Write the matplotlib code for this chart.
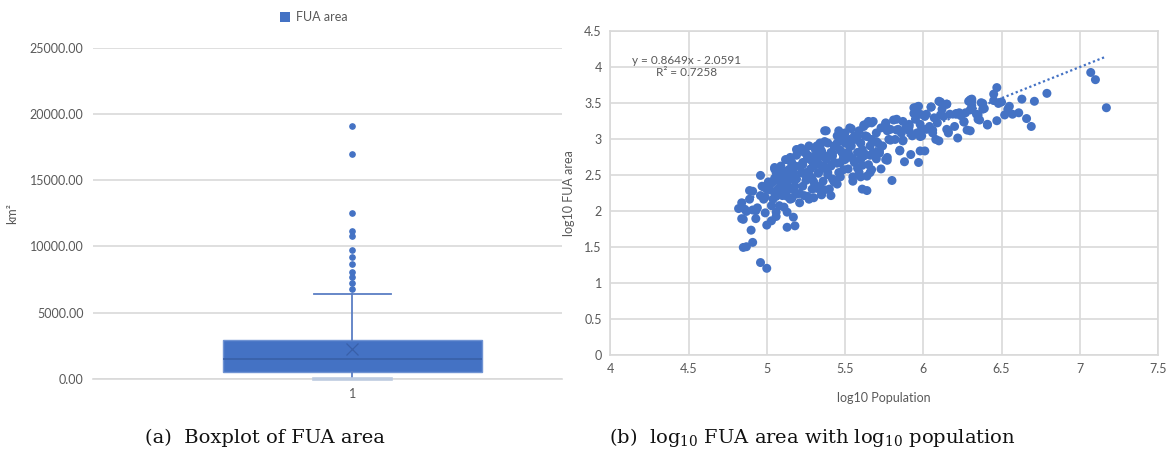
import matplotlib
matplotlib.use("Agg")
import matplotlib.pyplot as plt
from matplotlib.patches import Patch
import numpy as np

# boxplot of FUA area (km2), summary
box_q1 = 510
box_med = 1480
box_q3 = 2950
box_mean = 2260
whisk_lo = 0
whisk_hi = 6370
outliers = [19100, 17000, 12500, 11200, 10800, 9700, 9200, 8700, 8100, 7700, 7250, 6750]

# log10 population vs log10 FUA area
log_pop = [
    4.82, 4.84, 4.84, 4.86, 4.89, 4.89, 4.90, 4.91, 4.85, 4.87, 4.93, 4.91, 4.94, 4.96, 4.96,
    4.97, 4.98, 4.96, 5.00, 5.00, 4.99, 5.00, 5.01, 4.91, 4.85, 4.87, 4.93, 4.99, 4.98,
    5.03, 5.03, 5.04, 5.05, 5.05, 5.06, 5.06, 5.08, 5.09, 5.10, 5.12, 5.13, 5.13, 5.15, 5.15,
    5.16, 5.16, 5.17, 5.18, 5.17, 5.18, 5.19, 5.11, 5.08, 5.14, 5.10, 5.16, 5.18, 5.19, 5.21, 5.19,
    5.02, 5.07, 5.12, 5.14, 5.05, 5.09, 5.13, 5.17, 5.06, 5.11,
    5.22, 5.24, 5.23, 5.27, 5.25, 5.22, 5.23, 5.24, 5.27, 5.29, 5.29, 5.30, 5.31, 5.32, 5.34,
    5.33, 5.34, 5.35, 5.36, 5.36, 5.37, 5.37, 5.39, 5.39, 5.40, 5.25, 5.28, 5.30, 5.21, 5.27,
    5.29, 5.33, 5.35,
    5.41, 5.42, 5.41, 5.42, 5.43, 5.45, 5.46, 5.46, 5.45, 5.47, 5.48, 5.50, 5.50, 5.53, 5.52,
    5.53, 5.54, 5.55, 5.56, 5.56, 5.58, 5.59, 5.59, 5.60, 5.49, 5.48, 5.52, 5.55, 5.57, 5.53,
    5.43, 5.41,
    5.61, 5.64, 5.62, 5.65, 5.67, 5.63, 5.66, 5.62, 5.65, 5.66, 5.68, 5.70, 5.71, 5.73, 5.76,
    5.77, 5.74, 5.73, 5.77, 5.78, 5.79, 5.80, 5.61, 5.67, 5.72, 5.76, 5.64, 5.70,
    5.83, 5.82, 5.84, 5.85, 5.87, 5.88, 5.89, 5.91, 5.92, 5.93, 5.94, 5.96, 5.97, 5.98, 5.97,
    5.98, 5.99, 5.98, 5.91, 5.86, 5.95,
    6.01, 6.02, 6.02, 6.04, 6.05, 6.07, 6.08, 6.10, 6.10, 6.12, 6.13, 6.15, 6.15, 6.16, 6.17,
    6.20, 6.06, 6.09,
    6.22, 6.21, 6.23, 6.26, 6.27, 6.28, 6.29, 6.31, 6.31, 6.34, 6.35, 6.37, 6.38, 6.41, 6.24,
    6.45, 6.47, 6.45, 6.48, 6.50, 6.47, 6.52, 6.55, 6.54, 6.57, 6.61, 6.63, 6.66, 6.69, 6.71,
    6.79, 7.07, 7.10, 7.17, 6.30, 6.31, 6.31, 6.30, 6.39, 6.38, 6.35, 6.36, 6.41,
    # dense core, 5.0 - 5.6
    5.38, 5.47, 5.54, 5.62, 5.49, 5.58, 5.45, 5.37, 5.34, 5.31, 5.21, 5.25, 5.19, 5.26, 5.34,
    5.38, 5.42, 5.47, 5.53, 5.60, 5.62, 5.60, 5.58, 5.55, 5.49, 5.47, 5.43, 5.35, 5.37, 5.32,
    5.30, 5.28, 5.23, 5.17, 5.15, 5.13, 5.16, 5.11, 5.05, 5.09, 5.04, 5.00, 5.02, 5.06, 5.45,
    5.50, 5.36, 5.33, 5.39, 5.30, 5.23, 5.28, 5.21, 5.26, 5.17, 5.11, 5.13,
    # dense core, 5.6 - 6.3
    5.96, 6.05, 6.11, 6.15, 6.30, 5.94, 6.01, 6.11, 6.21, 6.26, 5.87, 5.81, 5.76, 5.68, 5.64,
    5.83, 5.91, 5.99, 6.06, 6.16, 5.98, 5.87, 5.79, 5.70, 5.64, 5.85, 5.72, 5.66, 5.77, 5.61,
    5.60, 5.67,
]
log_area = [
    2.03, 2.11, 1.89, 2.02, 2.16, 2.28, 1.73, 1.56, 1.49, 1.50, 1.89, 2.01, 2.04, 2.21, 2.49,
    2.34, 2.16, 1.28, 1.20, 1.80, 1.97, 2.30, 2.40, 2.27, 1.88, 1.99, 2.00, 2.19, 2.33,
    1.86, 2.07, 2.16, 2.25, 2.60, 2.53, 1.98, 2.07, 2.34, 2.21, 2.71, 1.98, 1.77, 2.16, 2.74,
    2.44, 2.17, 1.91, 1.79, 2.53, 2.62, 2.85, 2.39, 2.41, 2.57, 2.53, 2.67, 2.34, 2.23, 2.11, 2.44,
    2.36, 2.30, 2.48, 2.30, 2.45, 2.62, 2.20, 2.30, 1.92, 2.05,
    2.87, 2.81, 2.67, 2.76, 2.53, 2.53, 2.34, 2.21, 2.16, 2.30, 2.44, 2.62, 2.76, 2.90, 2.94,
    2.53, 2.34, 2.23, 2.41, 2.62, 2.76, 3.11, 2.94, 2.53, 2.30, 2.42, 2.58, 2.18, 2.62, 2.90,
    2.69, 2.65, 2.83,
    2.21, 2.44, 2.62, 2.76, 2.90, 3.04, 3.11, 2.53, 2.37, 2.67, 2.81, 2.94, 3.08, 3.15, 2.58,
    2.76, 2.90, 2.41, 3.04, 2.67, 2.81, 2.53, 3.11, 2.94, 2.74, 2.99, 2.81, 2.72, 2.99, 2.99,
    2.67, 2.81,
    2.30, 2.28, 3.17, 3.24, 3.22, 3.04, 2.90, 2.76, 2.64, 2.53, 2.81, 3.08, 2.94, 3.15, 3.22,
    3.11, 2.90, 2.58, 2.74, 2.99, 3.13, 2.42, 2.85, 2.99, 2.83, 2.71, 2.48, 2.72,
    3.27, 2.99, 3.13, 2.83, 2.97, 2.68, 3.15, 3.11, 2.78, 3.04, 3.43, 3.08, 3.45, 3.34, 2.67,
    2.83, 3.04, 3.20, 3.20, 3.08, 3.27,
    2.83, 3.13, 3.34, 3.17, 3.44, 3.29, 2.99, 2.97, 3.52, 3.41, 3.31, 3.48, 3.13, 3.08, 3.34,
    3.17, 3.08, 3.22,
    3.01, 3.34, 3.36, 3.23, 3.36, 3.12, 3.52, 3.55, 3.41, 3.34, 3.27, 3.50, 3.41, 3.20, 3.32,
    3.62, 3.71, 3.53, 3.49, 3.51, 3.25, 3.33, 3.45, 3.41, 3.34, 3.36, 3.55, 3.28, 3.17, 3.52,
    3.63, 3.92, 3.82, 3.43, 3.11, 3.52, 3.46, 3.40, 3.42, 3.49, 3.33, 3.26, 3.19,
    # dense core, 5.0 - 5.6
    3.11, 3.08, 3.14, 3.19, 2.98, 3.03, 2.94, 2.96, 2.89, 2.85, 2.85, 2.80, 2.77, 2.73, 2.75,
    2.71, 2.80, 2.84, 2.89, 2.94, 2.80, 2.71, 2.59, 2.47, 2.57, 2.47, 2.40, 2.22, 2.29, 2.31,
    2.40, 2.47, 2.52, 2.50, 2.57, 2.71, 2.64, 2.54, 2.58, 2.47, 2.40, 2.33, 2.29, 2.20, 2.66,
    2.71, 2.59, 2.52, 2.50, 2.64, 2.64, 2.71, 2.24, 2.20, 2.29, 2.29, 2.38,
    # dense core, 5.6 - 6.3
    3.44, 3.44, 3.51, 3.48, 3.54, 3.35, 3.31, 3.33, 3.35, 3.24, 3.24, 3.26, 3.21, 3.24, 3.21,
    3.12, 3.17, 3.14, 3.12, 3.10, 3.03, 2.98, 2.98, 2.96, 3.03, 2.84, 2.80, 2.77, 2.70, 2.63,
    2.47, 2.57,
]

# Excel trendline shown on the chart
slope = 0.8649
intercept = -2.0591
r2 = 0.7258

blue = "#4472C4"
grid_c = "#d9d9d9"
txt_c = "#595959"
font = "Lato"
fs = 9

fig = plt.figure(figsize=(11.74, 4.59), dpi=100)

# ---- (a) boxplot
ax1 = fig.add_axes([0.0795, 0.175, 0.399, 0.72])
stats = [{"med": box_med, "q1": box_q1, "q3": box_q3, "whislo": whisk_lo,
          "whishi": whisk_hi, "mean": box_mean, "fliers": outliers, "label": "1"}]
bp = ax1.bxp(stats, positions=[1], widths=0.5, capwidths=0.147, showmeans=True,
             patch_artist=True,
             boxprops=dict(facecolor=blue, edgecolor="#6f93d3", linewidth=1),
             medianprops=dict(color="#3960a8", linewidth=1.2),
             whiskerprops=dict(color="#5a7ec4", linewidth=1.3),
             capprops=dict(color="#5a7ec4", linewidth=1.3),
             meanprops=dict(marker="x", markeredgecolor="#3960a8", markersize=9,
                            markeredgewidth=0.9),
             flierprops=dict(marker="o", markerfacecolor=blue, markeredgecolor=blue,
                             markersize=3.8))
# lower cap sits on the zero line and shows up pale
bp["caps"][0].set_color("#bccadf")
bp["caps"][0].set_linewidth(2.6)
bp["caps"][0].set_zorder(3)
bp["caps"][0].set_clip_on(False)
ax1.set_xlim(0.5, 1.404)
ax1.set_ylim(0, 25000)
ax1.set_yticks(np.arange(0, 25001, 5000))
ax1.set_yticklabels(["%.2f" % v for v in np.arange(0, 25001, 5000)])
ax1.yaxis.grid(True, color=grid_c, linewidth=1.2)
ax1.set_axisbelow(True)
for s in ["left", "right", "top"]:
    ax1.spines[s].set_visible(False)
ax1.spines["bottom"].set_color(grid_c)
ax1.spines["bottom"].set_linewidth(1.2)
ax1.tick_params(length=0, labelsize=fs, colors=txt_c, pad=7)
for lab in ax1.get_xticklabels() + ax1.get_yticklabels():
    lab.set_family(font)
ax1.set_ylabel("km²", fontsize=fs, color=txt_c, family=font)
ax1.yaxis.set_label_coords(-0.16, 0.5)
ax1.legend(handles=[Patch(facecolor=blue, label="FUA area")], loc="center",
           bbox_to_anchor=(0.267, 0.962), bbox_transform=fig.transFigure,
           frameon=False, prop={"family": font, "size": fs}, labelcolor=txt_c,
           handlelength=0.8, handleheight=0.8, handletextpad=0.5)

# ---- (b) scatter
ax2 = fig.add_axes([0.5198, 0.2272, 0.4666, 0.7059])
xl = np.array([min(log_pop), max(log_pop)])
ax2.plot(xl, slope * xl + intercept, linestyle=(0, (1, 1.2)), color=blue,
         linewidth=1.6, zorder=2)
ax2.scatter(log_pop, log_area, s=42, color=blue, edgecolors="none", zorder=3)
ax2.set_xlim(4, 7.5)
ax2.set_ylim(0, 4.5)
ax2.set_xticks(np.arange(4, 7.51, 0.5))
ax2.set_yticks(np.arange(0, 4.51, 0.5))
ax2.set_xticklabels(["%g" % v for v in np.arange(4, 7.51, 0.5)])
ax2.set_yticklabels(["%g" % v for v in np.arange(0, 4.51, 0.5)])
ax2.grid(True, color=grid_c, linewidth=1.2)
ax2.set_axisbelow(True)
for s in ax2.spines.values():
    s.set_color(grid_c)
    s.set_linewidth(1.2)
ax2.tick_params(length=0, labelsize=fs, colors=txt_c, pad=6)
for lab in ax2.get_xticklabels() + ax2.get_yticklabels():
    lab.set_family(font)
ax2.set_xlabel("log10 Population", fontsize=fs, color=txt_c, family=font)
ax2.xaxis.set_label_coords(0.5, -0.115)
ax2.set_ylabel("log10 FUA area", fontsize=fs, color=txt_c, family=font)
ax2.yaxis.set_label_coords(-0.064, 0.5)
ax2.text(4.49, 4.0, "y = %.4fx - %.4f\nR² = %.4f" % (slope, -intercept, r2),
         ha="center", va="center", fontsize=8.5, color=txt_c, family=font,
         linespacing=1.15)

# ---- captions
cap_font = "DejaVu Serif"
plt.rcParams["mathtext.fontset"] = "dejavuserif"
fig.text(0.226, 0.047, "(a)  Boxplot of FUA area", ha="center", va="center",
         fontsize=14, family=cap_font, color="#111111")
fig.text(0.692, 0.047, r"(b)  log$_{10}$ FUA area with log$_{10}$ population",
         ha="center", va="center", fontsize=14, family=cap_font, color="#111111")

fig.savefig("out.png", dpi=100)
